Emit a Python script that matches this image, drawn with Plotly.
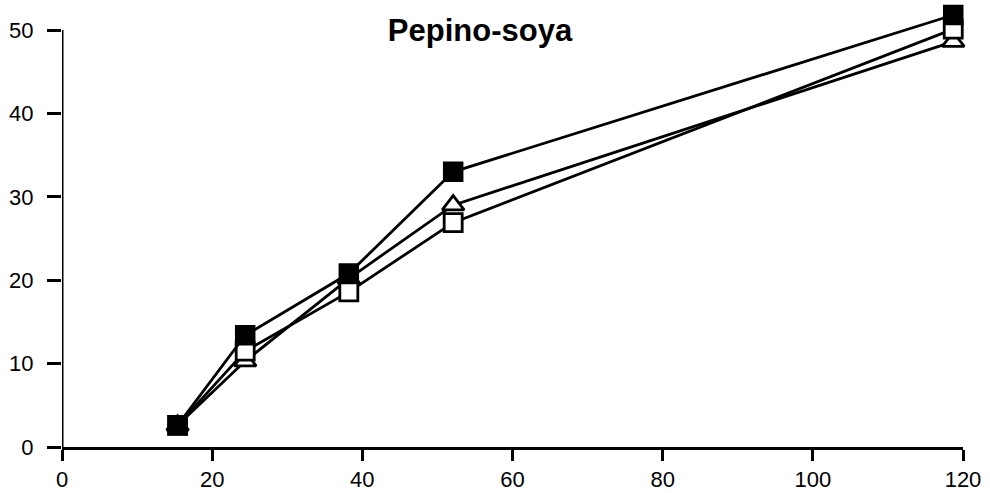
import plotly.graph_objects as go

# Sampling times and the three measured series
x_vals = [15.4, 24.4, 38.2, 52.1, 118.7]
filled_sq = [2.6, 13.4, 20.8, 33.0, 51.8]
open_sq = [2.6, 11.5, 18.6, 26.9, 50.1]
open_tri = [2.6, 10.3, 20.2, 29.0, 48.6]

x_ticks = [0, 20, 40, 60, 80, 100, 120]
y_ticks = [0, 10, 20, 30, 40, 50]

line = dict(color="black", width=2.8)
fig = go.Figure()
fig.add_trace(go.Scatter(
    x=x_vals, y=open_tri, mode="lines+markers", line=line,
    marker=dict(symbol="triangle-up", size=19, color="white",
                line=dict(color="black", width=2.8)),
    cliponaxis=False))
fig.add_trace(go.Scatter(
    x=x_vals, y=open_sq, mode="lines+markers", line=line,
    marker=dict(symbol="square", size=18, color="white",
                line=dict(color="black", width=2.8)),
    cliponaxis=False))
fig.add_trace(go.Scatter(
    x=x_vals, y=filled_sq, mode="lines+markers", line=line,
    marker=dict(symbol="square", size=19, color="black",
                line=dict(color="black", width=1.5)),
    cliponaxis=False))

# vertical axis line stops at the top tick
fig.add_shape(type="line", xref="x", yref="y", x0=0, x1=0, y0=0, y1=50,
              line=dict(color="black", width=3), layer="above")

axis_font = dict(family="Liberation Sans, Arial, sans-serif", size=22, color="black")
fig.update_layout(
    width=990, height=493,
    margin=dict(l=62, r=27, t=8, b=46),
    paper_bgcolor="white", plot_bgcolor="white",
    showlegend=False,
    title=dict(text="<b>Pepino-soya</b>", x=480 / 990, xanchor="center",
               xref="container", y=1 - 30 / 493, yanchor="middle", yref="container",
               font=dict(family="Liberation Sans, Arial, sans-serif", size=31, color="black")),
    xaxis=dict(range=[0, 120], tickvals=x_ticks, showgrid=False, zeroline=False,
               showline=True, linecolor="black", linewidth=3, automargin=False,
               ticks="outside", ticklen=11, tickwidth=2.5, tickcolor="black",
               ticklabelstandoff=0, tickfont=axis_font),
    yaxis=dict(range=[0, 52.64], tickvals=y_ticks, showgrid=False, zeroline=False,
               showline=False, automargin=False,
               ticks="outside", ticklen=14, tickwidth=2.5, tickcolor="black",
               ticklabelstandoff=9, tickfont=axis_font),
)
fig.write_html("out.html")
